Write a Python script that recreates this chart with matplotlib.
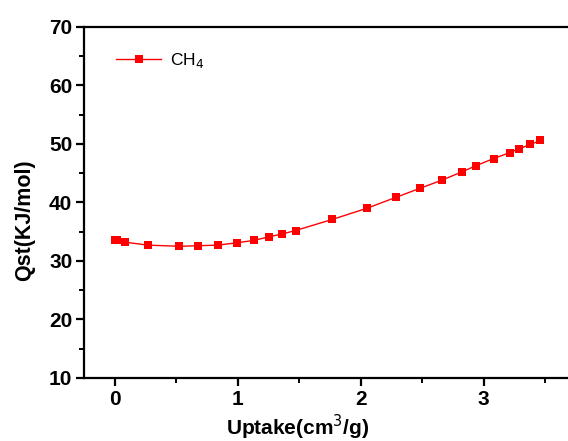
import matplotlib
matplotlib.use("Agg")
import matplotlib.pyplot as plt
from matplotlib.ticker import MultipleLocator

# uptake (cm3/g) and isosteric heat (KJ/mol) for CH4
uptake = [0.0, 0.02, 0.085, 0.27, 0.525, 0.68, 0.84, 0.99, 1.13, 1.25, 1.36, 1.47,
          1.77, 2.05, 2.29, 2.48, 2.66, 2.82, 2.94, 3.08, 3.21, 3.29, 3.38, 3.46]
qst = [33.6, 33.5, 33.2, 32.7, 32.5, 32.6, 32.7, 33.1, 33.5, 34.1, 34.6, 35.2,
       37.1, 39.0, 40.9, 42.4, 43.8, 45.2, 46.3, 47.5, 48.5, 49.2, 49.9, 50.6]

plt.rcParams['font.family'] = ['Liberation Sans', 'DejaVu Sans']

fig = plt.figure(figsize=(5.68, 4.41), dpi=100)
# right spine falls outside the picture, as in the original
ax = fig.add_axes([0.148, 0.143, 0.866, 0.796])

ax.plot(uptake, qst, color='#ff0000', lw=1.0, marker='s', ms=5.4,
        markeredgewidth=0, label='CH$_4$')

ax.set_xlim(-0.25, 3.75)
ax.set_ylim(10, 70)
ax.xaxis.set_major_locator(MultipleLocator(1))
ax.xaxis.set_minor_locator(MultipleLocator(0.5))
ax.yaxis.set_major_locator(MultipleLocator(10))
ax.yaxis.set_minor_locator(MultipleLocator(5))

for s in ax.spines.values():
    s.set_linewidth(1.6)
ax.tick_params(which='major', direction='out', length=5.5, width=1.6, labelsize=15, pad=3)
ax.tick_params(which='minor', direction='out', length=3.5, width=1.4)
ax.tick_params(top=False, right=False, which='both')
for lab in ax.get_xticklabels() + ax.get_yticklabels():
    lab.set_fontweight('bold')

ax.set_ylabel('Qst(KJ/mol)', fontsize=15.5, fontweight='bold')
ax.set_xlabel('Uptake(cm$^3$/g)', fontsize=15, fontweight='bold')
ax.xaxis.set_label_coords(0.435, -0.098)
ax.yaxis.set_label_coords(-0.1, 0.45)

ax.legend(loc='upper left', frameon=False, fontsize=12.5, handlelength=2.6,
          handletextpad=0.5, borderaxespad=0.6, bbox_to_anchor=(0.03, 0.98))

fig.savefig('out.png', dpi=100)
